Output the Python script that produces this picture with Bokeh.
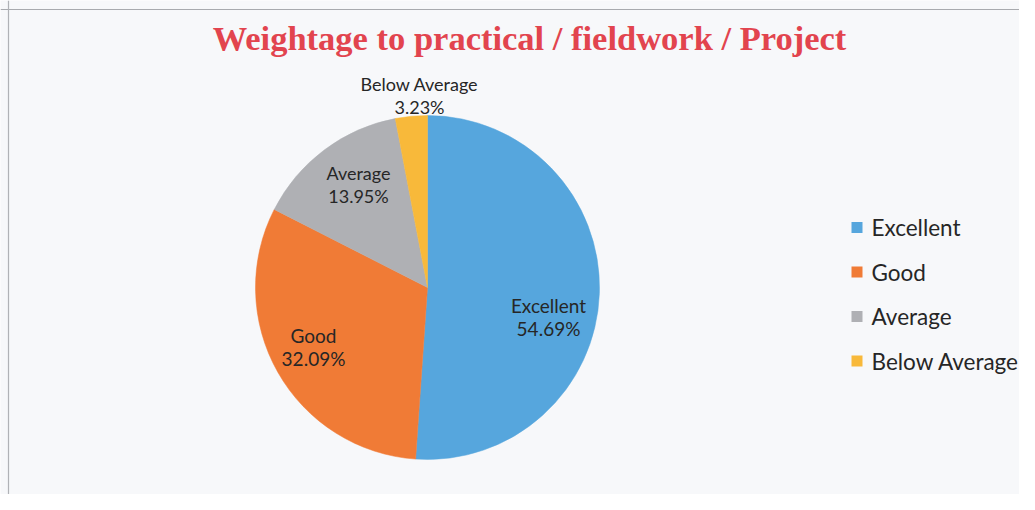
import math
from bokeh.plotting import figure
from bokeh.models import Range1d, Span, ColumnDataSource
from bokeh.core.properties import value
from bokeh.embed import file_html
from bokeh.resources import INLINE

# ---- data ----
categories = ["Excellent", "Good", "Average", "Below Average"]
pct_labels = ["54.69%", "32.09%", "13.95%", "3.23%"]
# slice sizes as drawn in the picture (angle, % of circle)
slice_shares = [51.1, 31.4, 14.5, 3.0]
colors = ["#56A6DD", "#F07B36", "#AFB0B4", "#F8B93A"]
title_text = "Weightage to practical / fieldwork / Project"

W, H = 1019, 494
IMG_H = 510

def iy(y):
    return IMG_H - y

p = figure(width=W, height=H, output_backend="svg", toolbar_location=None,
           x_range=Range1d(0, W), y_range=Range1d(IMG_H - H, IMG_H),
           min_border=0)
p.axis.visible = False
p.grid.visible = False
p.outline_line_color = None
p.background_fill_color = "#F7F8FA"
p.border_fill_color = "#F7F8FA"

# frame lines (scan border)
p.add_layout(Span(location=iy(9), dimension="width", line_color="#A8AAAE", line_width=1.2))
p.add_layout(Span(location=8, dimension="height", line_color="#B0B2B6", line_width=1.2))

# ---- pie ----
cx, cy, r = 427, iy(287), 172
total = sum(slice_shares)
starts, ends = [], []
a = math.pi / 2
for v in slice_shares:
    starts.append(a)
    a = a - 2 * math.pi * v / total
    ends.append(a)
src = ColumnDataSource(dict(cat=categories, start=starts, end=ends, color=colors))
p.wedge(x=cx, y=cy, radius=r, start_angle="start", end_angle="end",
        direction="clock", fill_color="color", line_color="color", line_width=0.5,
        source=src)

# data labels
label_pos = [(548, 305), (313, 335), (358, 172), (419, 83)]
label_sizes = ["19px", "19px", "18px", "18px"]
for (x0, y0), cat, pct, fs in zip(label_pos, categories, pct_labels, label_sizes):
    p.text(x=[x0, x0], y=[iy(y0), iy(y0 + 23)], text=[cat, pct], text_align="center",
           text_baseline="middle", text_font=value("Lato"), text_font_size=fs,
           text_color="#262626")

# title
p.text(x=[529], y=[iy(37)], text=[title_text], text_align="center", text_baseline="middle",
       text_font=value("Liberation Serif"), text_font_style="bold",
       text_font_size="34.5px", text_color="#E2444E")

# legend
leg_y = [iy(227 + 44.5 * i) for i in range(len(categories))]
p.rect(x=[856.5] * 4, y=leg_y, width=11, height=11, fill_color=colors, line_color=None)
p.text(x=[871] * 4, y=leg_y, text=categories, text_align="left", text_baseline="middle",
       text_font=value("Lato"), text_font_size="22.5px", text_color="#262626")

open("out.html", "w").write(file_html(p, INLINE))
